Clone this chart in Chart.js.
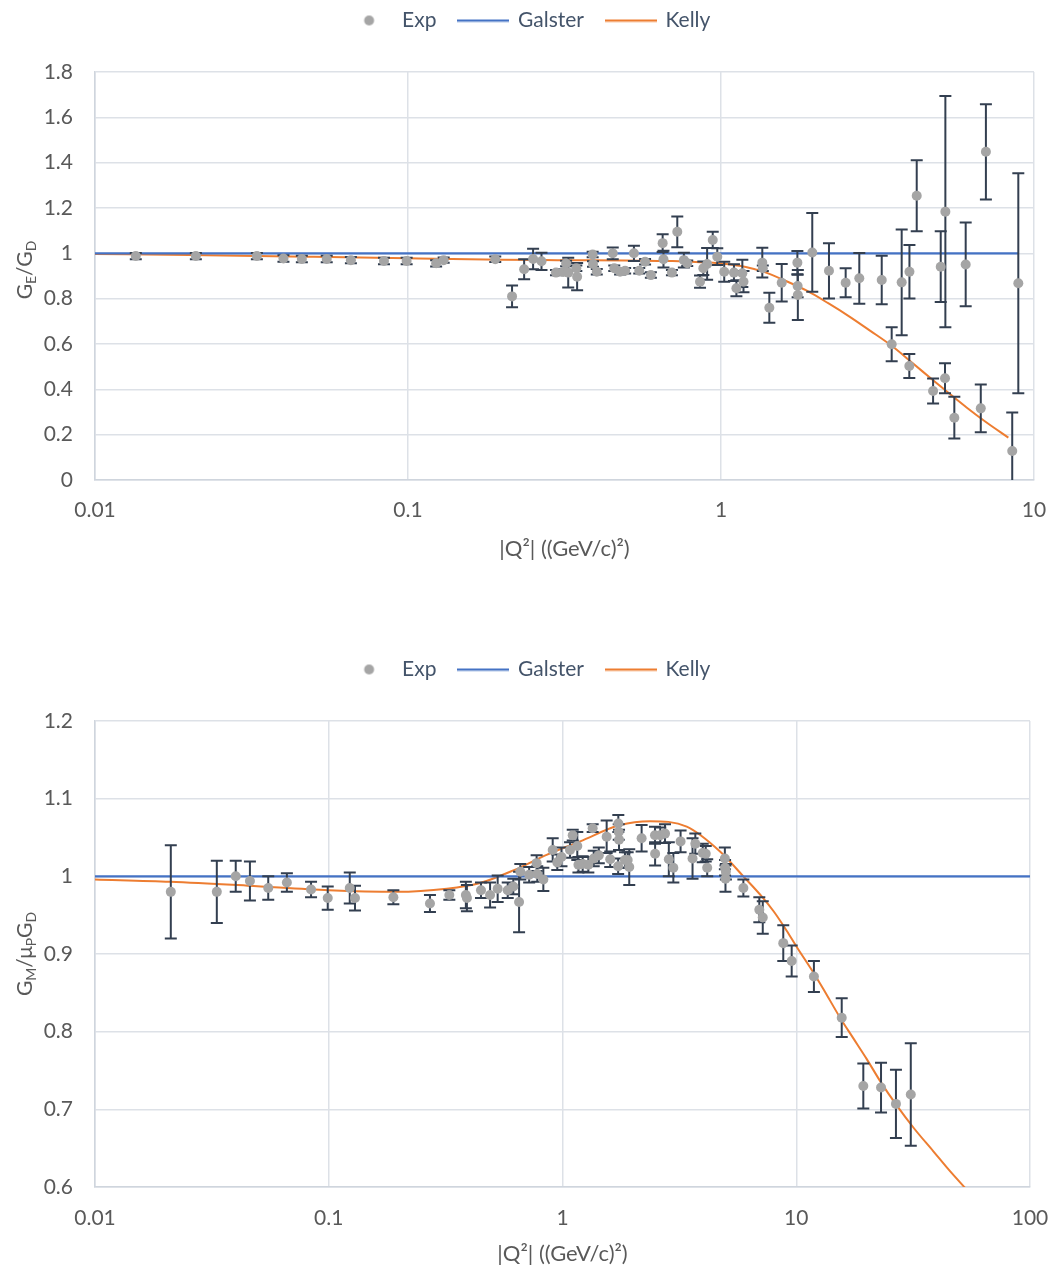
<!DOCTYPE html>
<html><head><meta charset="utf-8">
<script src="https://cdn.jsdelivr.net/npm/chart.js@4/dist/chart.umd.min.js"></script>
<style>
html,body{margin:0;padding:0;background:#fff;}
body{width:1052px;height:1271px;overflow:hidden;position:relative;}
.box{position:absolute;left:0;width:1052px;}
#b1{top:-13px;height:613px;}
#b2{top:636px;height:635px;}
canvas{display:block;}
</style></head><body>
<div class="box" id="b1"><canvas id="c1" width="1052" height="613"></canvas></div>
<div class="box" id="b2"><canvas id="c2" width="1052" height="635"></canvas></div>
<script>
// ---------- Top panel: G_E / G_D ----------
const geQ2 = [0.0135,0.021,0.0329,0.040,0.0458,0.055,0.0657,0.0838,0.099,0.123,0.13,0.19,0.215,0.235,0.251,0.267,0.297,0.313,0.32,0.325,0.345,0.347,0.389,0.39,0.401,0.451,0.456,0.476,0.494,0.527,0.548,0.572,0.597,0.651,0.655,0.697,0.725,0.761,0.78,0.857,0.878,0.903,0.941,0.973,1.024,1.10,1.12,1.17,1.18,1.355,1.36,1.427,1.563,1.754,1.757,1.76,1.957,2.213,2.502,2.766,3.262,3.51,3.778,3.996,4.0,4.22,4.76,5.035,5.196,5.21,5.565,6.05,6.76,7.02,8.52,8.91];
const geRatio = [0.988,0.988,0.988,0.977,0.975,0.975,0.970,0.966,0.966,0.956,0.970,0.974,0.81,0.93,0.975,0.965,0.915,0.918,0.955,0.915,0.934,0.897,0.995,0.953,0.919,1.0,0.934,0.919,0.923,1.0,0.923,0.963,0.904,1.045,0.974,0.915,1.095,0.970,0.956,0.875,0.934,0.953,1.059,0.985,0.919,0.915,0.846,0.912,0.875,0.959,0.934,0.760,0.870,0.959,0.856,0.816,1.004,0.923,0.870,0.890,0.882,0.599,0.872,0.503,0.919,1.254,0.393,0.941,0.449,1.184,0.275,0.951,0.316,1.448,0.128,0.868];
const geErr = [0.014,0.014,0.014,0.014,0.014,0.014,0.014,0.014,0.014,0.014,0.012,0.012,0.048,0.044,0.045,0.038,0.012,0.012,0.012,0.066,0.012,0.06,0.012,0.012,0.012,0.026,0.012,0.012,0.012,0.034,0.012,0.012,0.012,0.039,0.037,0.012,0.068,0.033,0.012,0.027,0.03,0.07,0.036,0.037,0.044,0.037,0.035,0.06,0.047,0.066,0.012,0.066,0.083,0.051,0.05,0.11,0.174,0.122,0.064,0.112,0.107,0.075,0.233,0.053,0.118,0.157,0.055,0.156,0.066,0.51,0.092,0.185,0.105,0.21,0.17,0.485];
const geGalsterQ2 = [0.01, 8.9];
const geGalster = [1.0, 1.0];
const geKellyQ2 = [0.01,0.02,0.05,0.1,0.2,0.3,0.5,0.7,0.86,1.0,1.2,1.37,1.6,1.88,2.2,2.58,3.0,3.51,4.1,4.76,5.4,6.09,7.0,8.28];
const geKelly = [0.997,0.993,0.985,0.978,0.972,0.970,0.968,0.966,0.961,0.955,0.940,0.918,0.880,0.835,0.780,0.720,0.658,0.592,0.515,0.440,0.378,0.320,0.257,0.187];
const geXTicks = [0.01, 0.1, 1, 10];
const geXLabels = ['0.01', '0.1', '1', '10'];

// ---------- Bottom panel: G_M / (mu_p G_D) ----------
const gmQ2 = [0.0211,0.0332,0.040,0.046,0.0551,0.0662,0.084,0.099,0.123,0.1295,0.189,0.271,0.328,0.386,0.39,0.448,0.49,0.528,0.583,0.616,0.652,0.66,0.72,0.775,0.78,0.828,0.908,0.95,0.99,1.077,1.106,1.157,1.17,1.22,1.29,1.346,1.36,1.43,1.545,1.60,1.733,1.74,1.745,1.73,1.85,1.90,1.93,2.18,2.487,2.49,2.62,2.745,2.85,2.98,3.20,3.60,3.70,3.98,4.10,4.16,4.95,4.96,5.00,4.98,5.94,6.95,7.19,8.8,9.56,11.9,15.65,19.36,23.05,26.7,30.9];
const gmRatio = [0.980,0.980,1.000,0.994,0.985,0.992,0.983,0.972,0.985,0.972,0.973,0.965,0.976,0.976,0.972,0.982,0.976,0.984,0.982,0.987,0.967,1.006,1.002,1.017,1.003,0.996,1.034,1.018,1.025,1.034,1.053,1.039,1.015,1.016,1.015,1.062,1.023,1.027,1.051,1.022,1.068,1.057,1.047,1.013,1.021,1.021,1.012,1.049,1.053,1.029,1.053,1.055,1.022,1.011,1.045,1.023,1.042,1.030,1.029,1.011,1.023,1.011,1.006,0.997,0.985,0.957,0.947,0.914,0.891,0.871,0.818,0.730,0.728,0.707,0.719];
const gmErr = [0.060,0.040,0.020,0.025,0.015,0.012,0.010,0.015,0.020,0.016,0.009,0.011,0.006,0.017,0.017,0.010,0.016,0.017,0.010,0.010,0.039,0.010,0.010,0.010,0.010,0.015,0.015,0.010,0.012,0.010,0.007,0.018,0.010,0.010,0.010,0.005,0.010,0.010,0.021,0.010,0.011,0.010,0.013,0.010,0.010,0.010,0.023,0.017,0.011,0.015,0.010,0.012,0.022,0.019,0.014,0.026,0.013,0.012,0.010,0.011,0.014,0.010,0.010,0.017,0.011,0.016,0.021,0.023,0.020,0.020,0.025,0.029,0.032,0.044,0.066];
const gmGalsterQ2 = [0.01, 100];
const gmGalster = [1.0, 1.0];
const gmKellyQ2 = [0.01,0.021,0.045,0.1,0.195,0.32,0.44,0.62,0.86,1.19,1.76,2.37,3.4,4.72,5.94,7.22,8.0,9.1,10.05,11.9,13,15.4,17.5,20,23,26.9,32,38.6,45,52.7];
const gmKelly = [0.996,0.993,0.988,0.982,0.980,0.984,0.991,1.008,1.028,1.045,1.066,1.071,1.064,1.032,1.000,0.972,0.955,0.930,0.909,0.875,0.856,0.818,0.792,0.765,0.735,0.705,0.675,0.646,0.622,0.599];
const gmXTicks = [0.01, 0.1, 1, 10, 100];
const gmXLabels = ['0.01', '0.1', '1', '10', '100'];

const seriesNames = ['Exp', 'Galster', 'Kelly'];
const FONT = 'Lato, "Open Sans", sans-serif';
const TXT = '#595959';
const GRID = '#dde1e7';

function pts(xs, ys) { return xs.map((x, i) => ({x: x, y: ys[i]})); }

function lineImg(color) {
  const c = document.createElement('canvas'); c.width = 52; c.height = 4;
  const g = c.getContext('2d'); g.fillStyle = color; g.fillRect(0, 1, 52, 2.2); return c;
}
function dotImg() {
  const c = document.createElement('canvas'); c.width = 52; c.height = 12;
  const g = c.getContext('2d'); g.fillStyle = '#a5a5a5'; g.beginPath(); g.arc(27.5, 6, 5, 0, Math.PI * 2); g.fill(); return c;
}
const legendImgs = [dotImg(), lineImg('#4472c4'), lineImg('#ed7d31')];

const errorBars = {
  id: 'errorBars',
  beforeDatasetDraw(chart, args) {
    if (args.index !== 0) return;
    const ds = chart.data.datasets[0];
    const xs = chart.scales.x, ys = chart.scales.y, a = chart.chartArea, ctx = chart.ctx;
    ctx.save();
    ctx.beginPath(); ctx.rect(a.left, a.top - 2, a.right - a.left, a.bottom - a.top + 2); ctx.clip();
    ctx.strokeStyle = '#333f50'; ctx.lineWidth = 2;
    ds.data.forEach((p, i) => {
      const e = ds.errors[i];
      const x = xs.getPixelForValue(p.x);
      const y1 = ys.getPixelForValue(p.y + e), y2 = ys.getPixelForValue(p.y - e);
      ctx.beginPath();
      ctx.moveTo(x, y1); ctx.lineTo(x, y2);
      ctx.moveTo(x - 6, y1); ctx.lineTo(x + 6, y1);
      ctx.moveTo(x - 6, y2); ctx.lineTo(x + 6, y2);
      ctx.stroke();
    });
    ctx.restore();
  }
};

const legendGap = {
  id: 'legendGap',
  beforeInit(chart) {
    const lg = chart.legend; const f = lg.fit;
    lg.fit = function () { f.call(this); this.height += 31; };
  },
  afterLayout(chart) {
    const lg = chart.legend;
    lg.left = 1; lg.right = 1053; lg.width = 1052;
  }
};

const yTitle = {
  id: 'yTitle',
  afterDraw(chart, args, opts) {
    const ctx = chart.ctx, a = chart.chartArea;
    const parts = opts.parts;
    const big = '21px ' + FONT, small = '14px ' + FONT;
    ctx.save();
    let w = 0;
    parts.forEach(p => { ctx.font = p[1] ? small : big; w += ctx.measureText(p[0]).width; });
    ctx.translate(opts.x, (a.top + a.bottom) / 2 + (opts.dy || 0));
    ctx.rotate(-Math.PI / 2);
    ctx.fillStyle = TXT; ctx.textBaseline = 'alphabetic'; ctx.textAlign = 'left';
    let x = -w / 2;
    parts.forEach(p => {
      ctx.font = p[1] ? small : big;
      ctx.fillText(p[0], x, p[1] ? 11 : 7);
      x += ctx.measureText(p[0]).width;
    });
    ctx.restore();
  }
};

function makeChart(id, d) {
  return new Chart(document.getElementById(id), {
    type: 'scatter',
    data: {
      datasets: [
        {label: seriesNames[0], data: pts(d.q2, d.val), errors: d.err, showLine: false,
         pointRadius: 5, pointHoverRadius: 5, pointBackgroundColor: '#a5a5a5', pointBorderWidth: 0, backgroundColor: '#a5a5a5'},
        {label: seriesNames[1], data: pts(d.gq, d.gv), showLine: true, pointRadius: 0,
         borderColor: '#4472c4', borderWidth: 2.2, backgroundColor: '#4472c4'},
        {label: seriesNames[2], data: pts(d.kq, d.kv), showLine: true, pointRadius: 0,
         borderColor: '#ed7d31', borderWidth: 2, backgroundColor: '#ed7d31', cubicInterpolationMode: 'monotone'}
      ]
    },
    options: {
      responsive: false, animation: false, devicePixelRatio: 1,
      layout: {padding: {left: 0, right: 0, top: 0, bottom: 0}},
      plugins: {
        tooltip: {enabled: false},
        legend: {
          position: 'top', align: 'center',
          labels: {
            usePointStyle: true, pointStyleWidth: 48, padding: 23,
            font: {family: FONT, size: 21}, color: '#44546a',
            generateLabels(chart) {
              return chart.data.datasets.map((ds, i) => ({
                text: ds.label, pointStyle: legendImgs[i], fillStyle: ds.backgroundColor,
                strokeStyle: ds.backgroundColor, lineWidth: 0, hidden: false, datasetIndex: i, fontColor: '#44546a'
              }));
            }
          }
        },
        yTitle: {parts: d.yParts, x: 25, dy: d.titleDy}
      },
      scales: {
        x: {
          type: 'logarithmic', min: d.xTicks[0], max: d.xTicks[d.xTicks.length - 1],
          afterBuildTicks(scale) { scale.ticks = d.xTicks.map(v => ({value: v, major: true})); },
          afterFit(scale) { scale.height = d.xH; scale.paddingRight = d.padR; },
          ticks: {
            autoSkip: false, maxRotation: 0, padding: d.tickPad, color: TXT, font: {family: FONT, size: 21},
            callback(v) { const i = d.xTicks.findIndex(t => Math.abs(t - v) / t < 1e-6); return i >= 0 ? d.xLabels[i] : ''; }
          },
          grid: {color: GRID, lineWidth: 1.5, drawTicks: false},
          border: {color: '#cfd5dd', width: 1.5},
          title: {display: true, text: '|Q²| ((GeV/c)²)', color: TXT, font: {family: FONT, size: 22}, padding: {top: 0, bottom: d.titlePadB}}
        },
        y: {
          type: 'linear', min: d.yMin, max: d.yMax,
          afterFit(scale) { scale.width = 95; },
          ticks: {
            stepSize: d.yStep, padding: 22, color: TXT, font: {family: FONT, size: 21},
            callback(v) { return String(Math.round(v * 10) / 10); }
          },
          grid: {color: GRID, lineWidth: 1.5, drawTicks: false},
          border: {color: '#cfd5dd', width: 1.5}
        }
      }
    },
    plugins: [errorBars, legendGap, yTitle]
  });
}

makeChart('c1', {
  q2: geQ2, val: geRatio, err: geErr, gq: geGalsterQ2, gv: geGalster, kq: geKellyQ2, kv: geKelly,
  xTicks: geXTicks, xLabels: geXLabels, yMin: 0, yMax: 1.8, yStep: 0.2,
  padR: 18, xH: 120, tickPad: 18, titlePadB: 38, titleDy: -6,
  yParts: [['G', false], ['E', true], ['/G', false], ['D', true]]
});
makeChart('c2', {
  q2: gmQ2, val: gmRatio, err: gmErr, gq: gmGalsterQ2, gv: gmGalster, kq: gmKellyQ2, kv: gmKelly,
  xTicks: gmXTicks, xLabels: gmXLabels, yMin: 0.6, yMax: 1.2, yStep: 0.1,
  padR: 22, xH: 84, tickPad: 19, titlePadB: 4, titleDy: 0,
  yParts: [['G', false], ['M', true], ['/μ', false], ['P', true], ['G', false], ['D', true]]
});
</script>
</body></html>
